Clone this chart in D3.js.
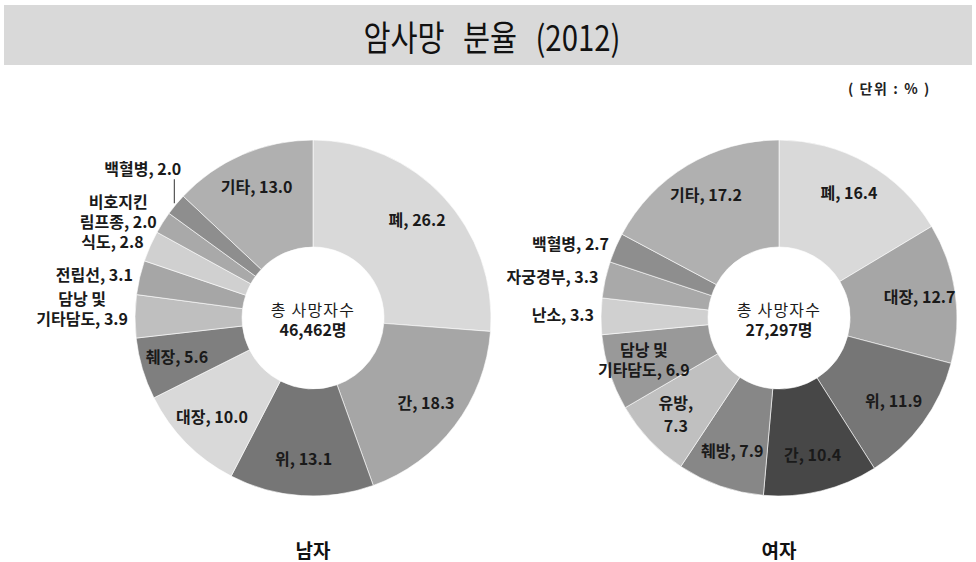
<!DOCTYPE html>
<html><head><meta charset="utf-8">
<script src="https://cdn.jsdelivr.net/npm/d3@7"></script>
<style>
body{margin:0;background:#fff;}
svg{display:block;font-family:"Noto Sans CJK KR","Noto Sans",sans-serif;}
</style></head>
<body><svg id="c" width="976" height="562"></svg>
<script>
const title = "암사망 분율 (2012)";
const unitLabel = "( 단위 : % )";

const maleCategories = ["폐","간","위","대장","췌장","담낭 및|기타담도","전립선","식도","비호지킨|림프종","백혈병","기타"];
const maleValues = [26.2,18.3,13.1,10.0,5.6,3.9,3.1,2.8,2.0,2.0,13.0];
const maleColors = ["#d9d9d9","#a6a6a6","#767676","#d9d9d9","#7f7f7f","#bfbfbf","#a6a6a6","#d0d0d0","#a9a9a9","#8e8e8e","#b0b0b0"];
const maleOutside = [false,false,false,false,false,true,true,true,true,"leader",false];
const maleTotal = "46,462명";
const maleTitle = "남자";

const femaleCategories = ["폐","대장","위","간","췌방","유방|","담낭 및|기타담도","난소","자궁경부","백혈병","기타"];
const femaleValues = [16.4,12.7,11.9,10.4,7.9,7.3,6.9,3.3,3.3,2.7,17.2];
const femaleColors = ["#d9d9d9","#a6a6a6","#767676","#474747","#878787","#c0c0c0","#999999","#d0d0d0","#a9a9a9","#8e8e8e","#b0b0b0"];
const femaleOutside = [false,false,false,false,false,false,false,true,true,true,false];
const femaleTotal = "27,297명";
const femaleTitle = "여자";

const centerLabel = "총 사망자수";

const svg = d3.select("#c");

// title bar
svg.append("rect").attr("x",4).attr("y",5).attr("width",968).attr("height",60).attr("fill","#d9d9d9");
svg.append("text").attr("transform","translate(492,51) scale(0.84,1)").attr("text-anchor","middle")
  .attr("font-size",35).attr("word-spacing",14).attr("fill","#111").text(title);
svg.append("text").attr("x",931).attr("y",94).attr("text-anchor","end")
  .attr("font-size",14).attr("font-weight","bold").attr("letter-spacing",1.6).attr("fill","#222").text(unitLabel);

function drawDonut(cx, cy, cats, vals, colors, outside, total, sexLabel){
  const R = 178, r0 = 71;
  const g = svg.append("g").attr("transform",`translate(${cx},${cy})`);
  const pie = d3.pie().sort(null).value(d=>d.v);
  const data = pie(cats.map((c,i)=>({c, v:vals[i], col:colors[i], out:outside[i]})));
  const arc = d3.arc().innerRadius(r0).outerRadius(R);
  g.selectAll("path").data(data).join("path")
    .attr("d",arc).attr("fill",d=>d.data.col)
    .attr("stroke","#fff").attr("stroke-width",0.6);

  const fs = 16;
  data.forEach(d=>{
    const a = (d.startAngle+d.endAngle)/2;
    const lines = d.data.c.split("|");
    const val = d.data.v.toFixed(1);
    let textLines;
    if(lines.length===1) textLines=[lines[0]+", "+val];
    else if(lines[1]==="") textLines=[lines[0]+",", val];
    else textLines=[lines[0], lines[1]+", "+val];
    const lh = (lines[1]==="") ? 23 : 20;
    if(d.data.out===false){
      const rr = 142;
      const x = Math.sin(a)*rr, y = -Math.cos(a)*rr;
      const t = g.append("text").attr("text-anchor","middle").attr("font-size",fs)
        .attr("font-weight","bold").attr("fill","#1a1a1a");
      textLines.forEach((s,k)=>{
        t.append("tspan").attr("x",x).attr("y",y + (k-(textLines.length-1)/2)*lh + 5).text(s);
      });
    } else if(d.data.out===true){
      const rr = R+7;
      const x = Math.sin(a)*rr, y = -Math.cos(a)*rr;
      const t = g.append("text").attr("text-anchor","middle").attr("font-size",fs)
        .attr("font-weight","bold").attr("fill","#1a1a1a");
      const n = textLines.length;
      const tsp = textLines.map((s,k)=> t.append("tspan").attr("x",0)
        .attr("y",y + (k-(n-1))*lh + (n>1?4:0) + 5).text(s));
      const w = d3.max(tsp, s=>s.node().getComputedTextLength());
      tsp.forEach(s=>s.attr("x", x - w/2));
    } else {
      // leader line label
      const x0 = Math.sin(a)*(R+2), y0 = -Math.cos(a)*(R+2);
      const y1 = y0 - 24;
      g.append("line").attr("x1",x0).attr("y1",y0).attr("x2",x0).attr("y2",y1)
        .attr("stroke","#333").attr("stroke-width",1);
      g.append("text").attr("x",x0+7).attr("y",y1-4).attr("text-anchor","end")
        .attr("font-size",fs).attr("font-weight","bold").attr("fill","#1a1a1a").text(textLines[0]);
    }
  });

  g.append("text").attr("text-anchor","middle").attr("font-size",16).attr("fill","#1a1a1a")
    .attr("letter-spacing",1.2).attr("y",-2).text(centerLabel);
  g.append("text").attr("text-anchor","middle").attr("font-size",16).attr("font-weight","bold")
    .attr("fill","#1a1a1a").attr("y",18).text(total);
  svg.append("text").attr("x",cx).attr("y",558).attr("text-anchor","middle")
    .attr("font-size",19).attr("font-weight","bold").attr("fill","#111").text(sexLabel);
}

drawDonut(313,318,maleCategories,maleValues,maleColors,maleOutside,maleTotal,maleTitle);
drawDonut(779,318,femaleCategories,femaleValues,femaleColors,femaleOutside,femaleTotal,femaleTitle);
</script></body></html>
